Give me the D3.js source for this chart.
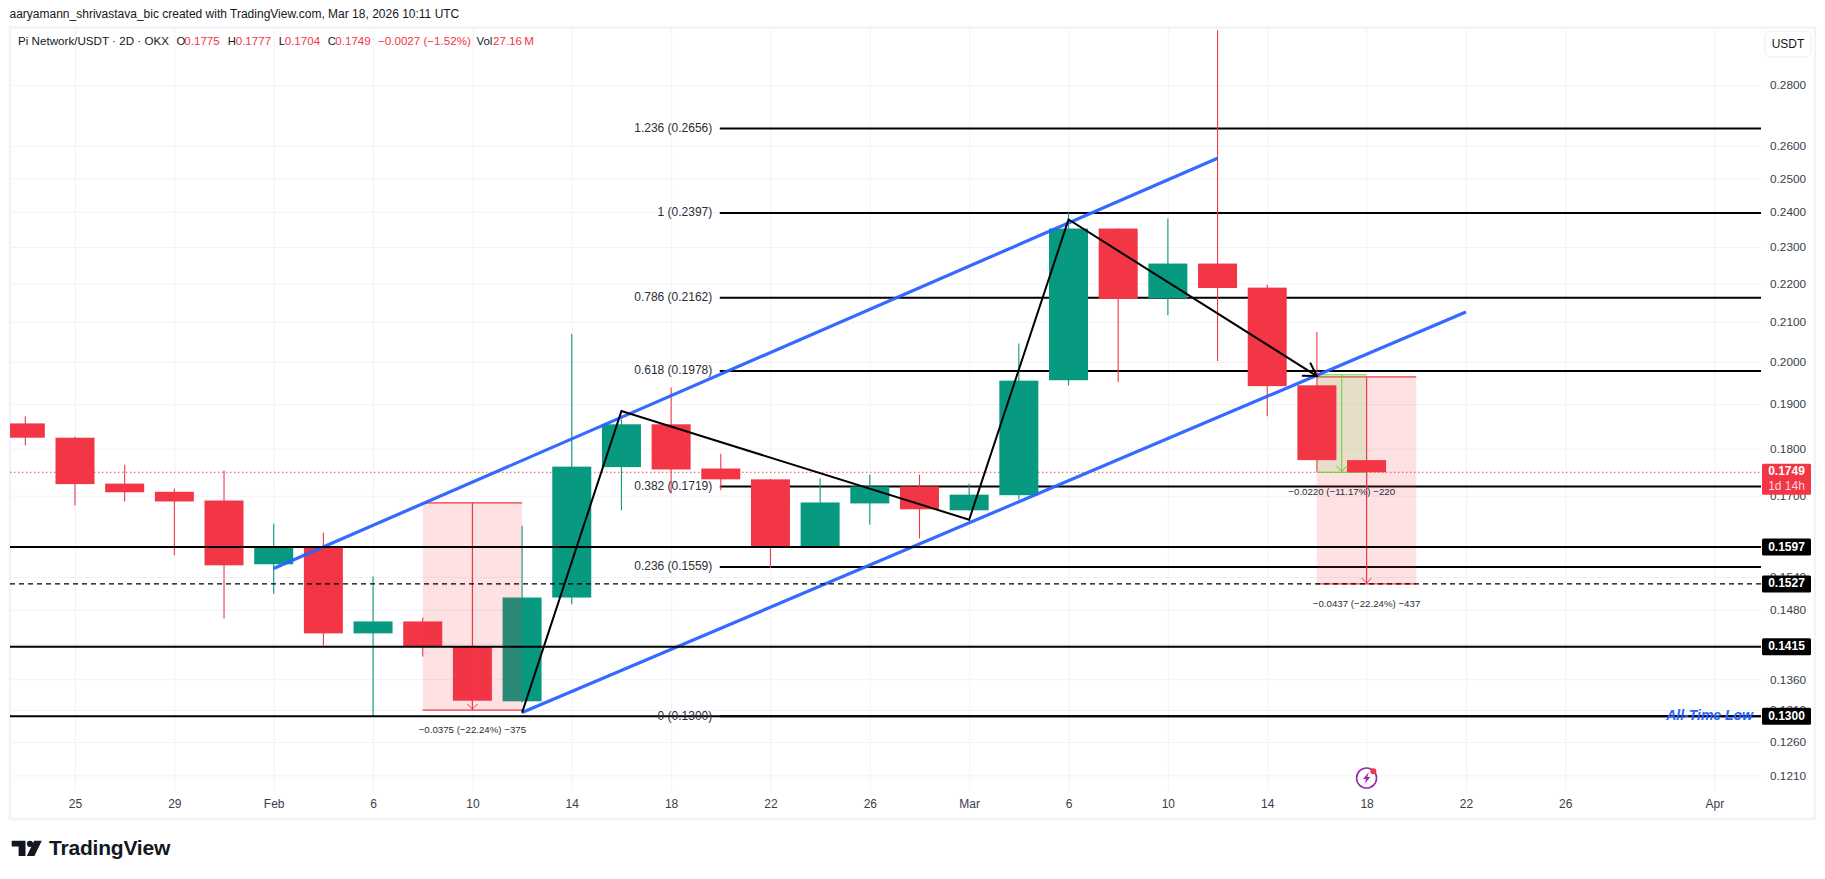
<!DOCTYPE html>
<html>
<head>
<meta charset="utf-8">
<script src="https://cdnjs.cloudflare.com/ajax/libs/d3/7.8.5/d3.min.js"></script>
<style>
html,body{margin:0;padding:0;background:#fff;}
svg{display:block;}
text{font-family:"Liberation Sans",Roboto,sans-serif;}
</style>
</head>
<body>
<svg id="chart" width="1825" height="879"></svg>
<script>
// ---------- data ----------
const barDates = ["2026-01-23","2026-01-25","2026-01-27","2026-01-29","2026-01-31","2026-02-02","2026-02-04","2026-02-06","2026-02-08","2026-02-10","2026-02-12","2026-02-14","2026-02-16","2026-02-18","2026-02-20","2026-02-22","2026-02-24","2026-02-26","2026-02-28","2026-03-02","2026-03-04","2026-03-06","2026-03-08","2026-03-10","2026-03-12","2026-03-14","2026-03-16","2026-03-18"];
const opens  = [.1856,.1824,.1725,.1708,.1690,.1564,.1597,.1438,.1459,.1415,.1324,.1502,.1760,.1854,.1757,.1734,.1597,.1684,.1719,.1670,.1701,.1956,.2352,.2161,.2254,.2189,.1944,.1775];
const highs  = [.1872,.1826,.1765,.1715,.1753,.1643,.1625,.1541,.1466,.1417,.1639,.2070,.1865,.1939,.1789,.1734,.1736,.1744,.1744,.1725,.2045,.2398,.2352,.2381,.2993,.2197,.2074,.1777];
const lows   = [.1807,.1680,.1688,.1581,.1464,.1509,.1417,.1300,.1398,.1322,.1322,.1490,.1670,.1705,.1711,.1557,.1597,.1641,.1614,.1669,.1692,.1944,.1951,.2117,.2002,.1872,.1750,.1704];
const closes = [.1824,.1724,.1707,.1688,.1562,.1597,.1438,.1459,.1415,.1325,.1502,.1761,.1854,.1755,.1734,.1597,.1686,.1719,.1672,.1702,.1955,.2352,.2159,.2254,.2188,.1942,.1775,.1749];

const timeTickDates  = ["2026-01-25","2026-01-29","2026-02-02","2026-02-06","2026-02-10","2026-02-14","2026-02-18","2026-02-22","2026-02-26","2026-03-02","2026-03-06","2026-03-10","2026-03-14","2026-03-18","2026-03-22","2026-03-26","2026-04-01"];
const timeTickLabels = ["25","29","Feb","6","10","14","18","22","26","Mar","6","10","14","18","22","26","Apr"];
const priceTicks = [.28,.26,.25,.24,.23,.22,.21,.20,.19,.18,.17,.154,.148,.142,.136,.131,.126,.121];

const fibRatios = ["0","0.236","0.382","0.618","0.786","1","1.236"];
const fibPrices = [.13,.1559,.1719,.1978,.2162,.2397,.2656];
const fibStart = "2026-02-20";

const levelPrices = [.1597,.1415,.13];
const dashedPrice = .1527;
const lastPrice = .1749;

const channelUpperDates = ["2026-02-02","2026-03-12"];
const channelUpperPrices = [.1556,.2562];
const channelLowerDates = ["2026-02-12","2026-03-22"];
const channelLowerPrices = [.1306,.2125];

const zigzagDates = ["2026-02-12","2026-02-16","2026-03-02","2026-03-06","2026-03-16"];
const zigzagPrices = [.1306,.1884,.1651,.2378,.1966];

const measureStart = ["2026-02-08","2026-03-16","2026-03-16"];
const measureEnd   = ["2026-02-12","2026-03-20","2026-03-18"];
const measureTop   = [.1685,.1964,.1969];
const measureBottom= [.1310,.1527,.1749];
const measureLabels= ["\u22120.0375 (\u221222.24%) \u2212375","\u22120.0437 (\u221222.24%) \u2212437","\u22120.0220 (\u221211.17%) \u2212220"];
const measureColors= ["#f23645","#f23645","#55d21f"];

// ---------- scales ----------
const parse = d3.utcParse("%Y-%m-%d");
const x = d3.scaleUtc().domain([parse("2026-01-25"),parse("2026-04-01")]).range([75,1714.3]);
const y = d3.scaleLog().domain([.3003,.1188]).range([27.5,790.5]);
const plot = {l:10,r:1761,t:28,b:791};
const red="#f23645", green="#089981", blue="#2962ff", ink="#131722";

const svg = d3.select("#chart");
svg.append("defs").append("clipPath").attr("id","plotClip").append("rect")
  .attr("x",plot.l).attr("y",plot.t).attr("width",plot.r-plot.l).attr("height",plot.b-plot.t);

// frame
svg.append("rect").attr("x",10).attr("y",27.5).attr("width",1805).attr("height",791.5)
  .attr("fill","none").attr("stroke","#f0f3fa").attr("stroke-width",2.5);

// ---------- grid and axes ----------
const yAxis = d3.axisRight(y).tickValues(priceTicks).tickFormat(d3.format(".4f"))
  .tickSize(plot.l-plot.r).tickPadding(0);
const yG = svg.append("g").attr("transform",`translate(${plot.r},0)`).call(yAxis);
yG.select(".domain").remove();
yG.selectAll("line").attr("stroke","#f0f3fa");
yG.selectAll("text").attr("x",9).attr("text-anchor","start").attr("font-size",11.8).attr("fill","#3a3e4a").attr("font-family",null);

const xAxis = d3.axisBottom(x).tickValues(timeTickDates.map(parse))
  .tickFormat((d,i)=>timeTickLabels[i]).tickSize(plot.t-plot.b).tickPadding(0);
const xG = svg.append("g").attr("transform",`translate(0,${plot.b})`).call(xAxis);
xG.select(".domain").remove();
xG.selectAll("line").attr("stroke","#f0f3fa");
xG.selectAll("text").attr("y",14).attr("dy","0").attr("dominant-baseline","middle").attr("font-size",12).attr("fill","#3a3e4a").attr("font-family",null);

// ---------- plot content ----------
const g = svg.append("g").attr("clip-path","url(#plotClip)");

// fibonacci levels under the candles
g.append("g").selectAll("line").data(fibPrices).join("line")
  .attr("x1",x(parse(fibStart))-1).attr("x2",plot.r)
  .attr("y1",d=>y(d)).attr("y2",d=>y(d)).attr("stroke","#000").attr("stroke-width",2);

// last price
g.append("line").attr("x1",plot.l).attr("x2",plot.r).attr("y1",y(lastPrice)).attr("y2",y(lastPrice))
  .attr("stroke",red).attr("stroke-width",1).attr("stroke-dasharray","1.4 2.6");

// measure boxes
function chevron(px,py,len){
  const p=d3.path();
  p.moveTo(px-len,py-len);p.lineTo(px,py);p.lineTo(px+len,py-len);
  return p.toString();
}
function drawMeasure(layer,i){
  const a=x(parse(measureStart[i])), b=x(parse(measureEnd[i]));
  const top=y(measureTop[i]), bot=y(measureBottom[i]), c=measureColors[i], mid=(a+b)/2;
  const w=i==2?.9:1.2;
  const mg=layer.append("g");
  mg.append("rect").attr("x",a).attr("y",top).attr("width",b-a).attr("height",bot-top)
    .attr("fill",c).attr("fill-opacity",i==2?.13:.15);
  mg.append("line").attr("x1",a).attr("x2",b).attr("y1",top).attr("y2",top).attr("stroke",c).attr("stroke-width",w);
  mg.append("line").attr("x1",a).attr("x2",b).attr("y1",bot).attr("y2",bot).attr("stroke",c).attr("stroke-width",w);
  mg.append("line").attr("x1",mid).attr("x2",mid).attr("y1",top).attr("y2",bot).attr("stroke",c).attr("stroke-width",w);
  mg.append("path").attr("d",chevron(mid,bot-1,5)).attr("fill","none").attr("stroke",c).attr("stroke-width",1);
}
drawMeasure(g,1);
drawMeasure(g,2);

// candles
const bars = barDates.map((d,i)=>({d:parse(d),o:opens[i],h:highs[i],l:lows[i],c:closes[i]}));
const bodyW = 39;
const cg = g.append("g").selectAll("g").data(bars).join("g");
cg.append("line").attr("x1",d=>x(d.d)).attr("x2",d=>x(d.d))
  .attr("y1",d=>y(d.h)).attr("y2",d=>y(d.l))
  .attr("stroke",d=>d.c>=d.o?green:red).attr("stroke-width",1.1);
cg.append("rect").attr("x",d=>x(d.d)-bodyW/2).attr("width",bodyW)
  .attr("y",d=>y(Math.max(d.o,d.c))).attr("height",d=>Math.abs(y(d.o)-y(d.c)))
  .attr("fill",d=>d.c>=d.o?green:red);

drawMeasure(g,0);
measureLabels.forEach((t,i)=>{
  g.append("text").attr("x",x(parse(measureStart[i]))/2+x(parse(measureEnd[i]))/2).attr("y",y(measureBottom[i])+20.4)
    .attr("text-anchor","middle").attr("dominant-baseline","middle")
    .attr("font-size",9.7).attr("fill","#2a2e39").text(t);
});

// channel
const lineGen = d3.line().x(d=>x(parse(d[0]))).y(d=>y(d[1]));
[[channelUpperDates,channelUpperPrices],[channelLowerDates,channelLowerPrices]].forEach(([ds,ps])=>{
  g.append("path").attr("d",lineGen(d3.zip(ds,ps))).attr("fill","none")
    .attr("stroke",blue).attr("stroke-width",3.2).attr("stroke-opacity",.95);
});

// level lines over the candles
g.append("g").selectAll("line").data(levelPrices).join("line")
  .attr("x1",plot.l).attr("x2",plot.r).attr("y1",d=>y(d)).attr("y2",d=>y(d))
  .attr("stroke","#000").attr("stroke-width",2);
g.append("line").attr("x1",plot.l).attr("x2",plot.r).attr("y1",y(dashedPrice)).attr("y2",y(dashedPrice))
  .attr("stroke","#000").attr("stroke-width",1.3).attr("stroke-dasharray","5 4");

// zigzag with an arrow head
g.append("path").attr("d",lineGen(d3.zip(zigzagDates,zigzagPrices))).attr("fill","none")
  .attr("stroke","#000").attr("stroke-width",2).attr("stroke-linejoin","miter");
const n=zigzagDates.length-1;
const tx=x(parse(zigzagDates[n])), ty=y(zigzagPrices[n]);
const ang=Math.atan2(ty-y(zigzagPrices[n-1]),tx-x(parse(zigzagDates[n-1])));
const barb=d3.path();
barb.moveTo(tx+15*Math.cos(ang+2.6),ty+15*Math.sin(ang+2.6));
barb.lineTo(tx,ty);
barb.lineTo(tx+15*Math.cos(ang-2.6),ty+15*Math.sin(ang-2.6));
g.append("path").attr("d",barb.toString()).attr("fill","none").attr("stroke","#000").attr("stroke-width",2);

// fib labels
const fibG = svg.append("g");
fibRatios.forEach((r,i)=>{
  fibG.append("text").attr("x",x(parse(fibStart))-8.5).attr("y",y(fibPrices[i])).attr("dominant-baseline","middle")
    .attr("text-anchor","end").attr("font-size",12).attr("fill","#2a2e39")
    .text(`${r} (${fibPrices[i].toFixed(4)})`);
});

// all time low
svg.append("text").attr("x",1753).attr("y",y(.13)-.5).attr("text-anchor","end").attr("dominant-baseline","middle")
  .attr("font-size",14).attr("font-weight","bold").attr("font-style","italic").attr("fill",blue).text("All-Time Low");

// price tags
const tagG = svg.append("g");
tagG.append("rect").attr("x",1762).attr("y",y(lastPrice)-8.5).attr("width",49).attr("height",31).attr("rx",1.5).attr("fill",red);
tagG.append("text").attr("x",1786.5).attr("y",y(lastPrice)).attr("text-anchor","middle").attr("dominant-baseline","middle")
  .attr("font-size",12).attr("font-weight","bold").attr("fill","#fff").text(lastPrice.toFixed(4));
tagG.append("text").attr("x",1786.5).attr("y",y(lastPrice)+14.5).attr("text-anchor","middle").attr("dominant-baseline","middle")
  .attr("font-size",12).attr("fill","#ffd3d7").text("1d 14h");
[dashedPrice,...levelPrices].forEach(p=>{
  tagG.append("rect").attr("x",1762).attr("y",y(p)-8.5).attr("width",49).attr("height",17).attr("rx",1.5).attr("fill","#000");
  tagG.append("text").attr("x",1786.5).attr("y",y(p)+.3).attr("text-anchor","middle").attr("dominant-baseline","middle")
    .attr("font-size",12).attr("font-weight","bold").attr("fill","#fff").text(p.toFixed(4));
});

// USDT button
svg.append("rect").attr("x",1765).attr("y",31).attr("width",46).attr("height",26).attr("rx",5)
  .attr("fill","#fff").attr("stroke","#f0f3fa").attr("stroke-width",1.5);
svg.append("text").attr("x",1788).attr("y",44.5).attr("text-anchor","middle").attr("dominant-baseline","middle")
  .attr("font-size",12).attr("fill",ink).text("USDT");

// header texts
svg.append("text").attr("x",9.5).attr("y",15).attr("dominant-baseline","middle").attr("font-size",12).attr("fill",ink)
  .text("aaryamann_shrivastava_bic created with TradingView.com, Mar 18, 2026 10:11 UTC");
svg.append("text").attr("x",18).attr("y",41.7).attr("dominant-baseline","middle").attr("font-size",11.6).attr("fill",ink)
  .attr("textLength",151).attr("lengthAdjust","spacing")
  .text("Pi Network/USDT \u00b7 2D \u00b7 OKX");
const legendLabels=["O","H","L","C","Vol"];
const legendLabelX=[176.4,227.8,278.8,327.8,476.5];
const legendValues=["0.1775","0.1777","0.1704","0.1749","27.16\u202fM"];
const legendValueX=[184.3,235.7,284.7,335.3,493];
legendLabels.forEach((t,i)=>{
  svg.append("text").attr("x",legendLabelX[i]).attr("y",41.7).attr("dominant-baseline","middle").attr("font-size",11.4).attr("fill",ink).text(t);
  svg.append("text").attr("x",legendValueX[i]).attr("y",41.7).attr("dominant-baseline","middle").attr("font-size",11.6).attr("fill",red).text(legendValues[i]);
});
svg.append("text").attr("x",378).attr("y",41.7).attr("dominant-baseline","middle").attr("font-size",11.6).attr("fill",red).text("\u22120.0027 (\u22121.52%)");

// event badge
const badge = svg.append("g").attr("transform",`translate(${x(parse("2026-03-18"))},778)`);
badge.append("circle").attr("r",10).attr("fill","#fff").attr("stroke","#9c27b0").attr("stroke-width",1.6);
badge.append("path").attr("d","M2.2,-5.8 L-3.6,1 L-0.6,1 L-2,5.8 L3.8,-1 L0.8,-1 Z").attr("fill","#9c27b0");
badge.append("circle").attr("cx",6.8).attr("cy",-6.8).attr("r",3).attr("fill",red);

// logo
const logo = svg.append("g").attr("fill",ink);
logo.append("path").attr("d","M11.7,840.7 H25.5 V856 H18.6 V846.6 H11.7 Z");
logo.append("circle").attr("cx",30).attr("cy",843.8).attr("r",3.1);
logo.append("path").attr("d","M34.2,840.7 H41.8 L34.4,856 H26.8 Z");
logo.append("text").attr("x",49).attr("y",849.5).attr("dominant-baseline","middle").attr("font-family","Inter")
  .attr("font-size",21).attr("font-weight",600).attr("letter-spacing",-.2).attr("fill",ink).text("TradingView");
</script>
</body>
</html>
